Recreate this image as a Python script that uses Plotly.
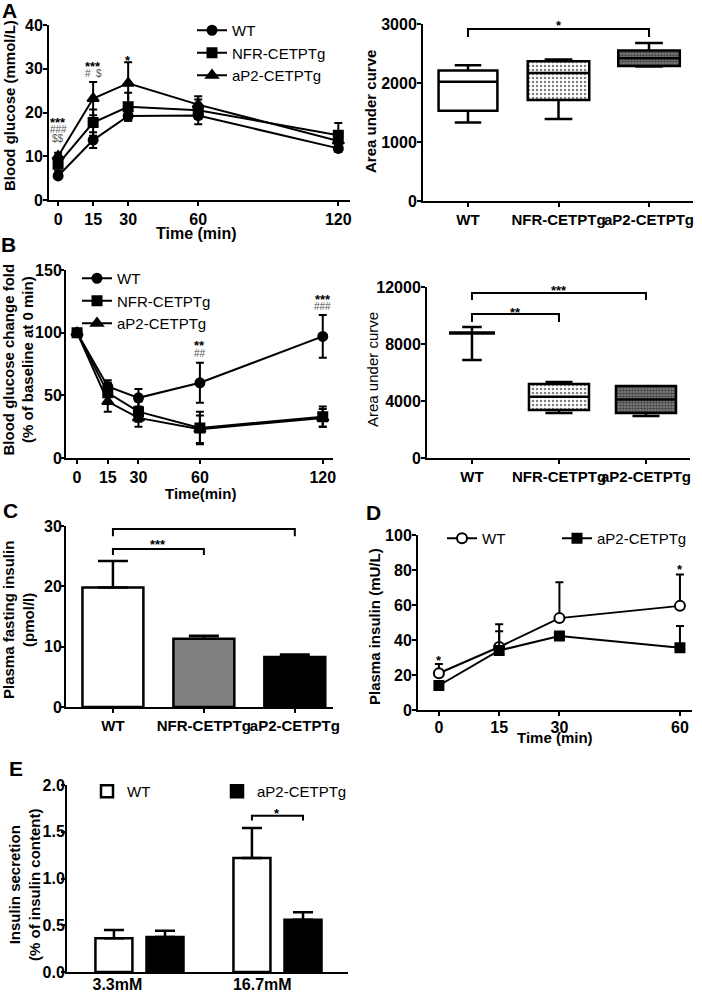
import plotly.graph_objects as go

W, H = 702, 992
FONT = "Liberation Sans, Arial, sans-serif"

# ---------------- data ----------------
TIME_GTT = [0, 15, 30, 60, 120]
GTT_WT = [5.5, 13.7, 19.2, 19.3, 11.8]
GTT_WT_ERR = [0.5, 1.8, 1.0, 0.8, 0.8]
GTT_NFR = [8.2, 17.7, 21.3, 20.5, 14.8]
GTT_NFR_ERR = [1.5, 3.0, 3.2, 3.2, 2.8]
GTT_AP2 = [10.0, 23.2, 26.7, 21.8, 13.5]
GTT_AP2_ERR = [0.8, 3.8, 4.8, 1.2, 2.0]

GROUPS = ["WT", "NFR-CETPTg", "aP2-CETPTg"]
GTT_AUC_MIN = [1330, 1390, 2280]
GTT_AUC_Q1 = [1530, 1710, 2290]
GTT_AUC_MED = [2020, 2170, 2420]
GTT_AUC_Q3 = [2210, 2370, 2550]
GTT_AUC_MAX = [2300, 2400, 2680]

TIME_ITT = [0, 15, 30, 60, 120]
ITT_WT = [100, 57, 48, 60, 97]
ITT_WT_ERR = [0, 5, 7, 16, 17]
ITT_NFR = [100, 52, 37, 24, 33]
ITT_NFR_ERR = [0, 8, 8, 13, 8]
ITT_AP2 = [100, 45, 32, 23, 32]
ITT_AP2_ERR = [0, 8, 7, 11, 7]

ITT_AUC_MIN = [6880, 3150, 2950]
ITT_AUC_Q1 = [8740, 3370, 3160]
ITT_AUC_MED = [8770, 4300, 4100]
ITT_AUC_Q3 = [8800, 5190, 5050]
ITT_AUC_MAX = [9190, 5330, 5060]

FAST_INS = [19.8, 11.3, 8.3]
FAST_INS_ERR = [4.4, 0.5, 0.4]
FAST_COLORS = ["white", "#808080", "black"]

TIME_INS = [0, 15, 30, 60]
INS_WT = [21, 36, 52.5, 59.5]
INS_WT_ERR = [5.3, 13, 20.5, 18]
INS_AP2 = [14, 34, 42.3, 35.5]
INS_AP2_ERR = [1.5, 11, 2, 12.5]

GLUCOSE_CONC = ["3.3mM", "16.7mM"]
GSIS_WT = [0.36, 1.22]
GSIS_WT_ERR = [0.09, 0.32]
GSIS_AP2 = [0.375, 0.56]
GSIS_AP2_ERR = [0.065, 0.08]

# significance brackets: (x0, x1, leg bottom, top, label, label y)
GTT_AUC_SIG = [(0, 2, 2780, 2915, "*", 2975)]
ITT_AUC_SIG = [(0, 2, 11090, 11580, "***", 11720), (0, 1, 9540, 10105, "**", 10180)]
FAST_SIG = [(0, 2, 28.3, 29.5, "***", 30.25), (0, 1, 25.2, 26.2, "***", 26.9)]

# ---------------- helpers ----------------
def xd(p0, p1):
    return [p0 / W, p1 / W]

def yd(top, bot):
    return [1 - bot / H, 1 - top / H]

BOLD = dict(family=FONT, size=16, color="black", weight="bold")

def axis(domain, rng, anchor, **kw):
    d = dict(domain=domain, range=rng, anchor=anchor, showline=True, linewidth=2,
             linecolor="black", ticks="outside", ticklen=4, tickwidth=2, tickcolor="black",
             showgrid=False, zeroline=False, tickfont=BOLD, fixedrange=True, tickangle=0,
             automargin=False)
    d.update(kw)
    return d

def yaxis(domain, rng, anchor, standoff=-3, **kw):
    return axis(domain, rng, anchor, ticklabelstandoff=standoff, **kw)

fig = go.Figure()

ERR = dict(color="black", thickness=2, width=4)

def line_trace(x, y, err, name, symbol, xa, ya, legend, symmetric=True, mcolor="black", size=9):
    e = dict(type="data", array=err, visible=True, **ERR)
    if not symmetric:
        e.update(symmetric=False, arrayminus=[0] * len(err))
    return go.Scatter(x=x, y=y, name=name, mode="lines+markers", xaxis=xa, yaxis=ya,
                      legend=legend, cliponaxis=False,
                      line=dict(color="black", width=2),
                      marker=dict(symbol=symbol, size=size, color=mcolor,
                                  line=dict(color="black", width=2)),
                      error_y=e)

# Panel A left
fig.add_trace(line_trace(TIME_GTT, GTT_WT, GTT_WT_ERR, "WT", "circle", "x", "y", "legend"))
fig.add_trace(line_trace(TIME_GTT, GTT_NFR, GTT_NFR_ERR, "NFR-CETPTg", "square", "x", "y", "legend"))
fig.add_trace(line_trace(TIME_GTT, GTT_AP2, GTT_AP2_ERR, "aP2-CETPTg", "triangle-up", "x", "y", "legend", size=10))

# Panel B left
fig.add_trace(line_trace(TIME_ITT, ITT_WT, ITT_WT_ERR, "WT", "circle", "x3", "y3", "legend2"))
fig.add_trace(line_trace(TIME_ITT, ITT_NFR, ITT_NFR_ERR, "NFR-CETPTg", "square", "x3", "y3", "legend2"))
fig.add_trace(line_trace(TIME_ITT, ITT_AP2, ITT_AP2_ERR, "aP2-CETPTg", "triangle-up", "x3", "y3", "legend2", size=10))

# Box panels
PATTERNS = [None,
            dict(shape=".", size=4, solidity=0.3, fgcolor="black", bgcolor="white"),
            dict(shape=".", size=3, solidity=0.6, fgcolor="black", bgcolor="#8a8a8a")]

def add_boxes(xa, ya, mn, q1, med, q3, mx, widths):
    for i in range(3):
        if PATTERNS[i] is not None:
            fig.add_trace(go.Bar(x=[i], y=[q3[i] - q1[i]], base=[q1[i]], width=widths[i],
                                 xaxis=xa, yaxis=ya, showlegend=False, hoverinfo="skip",
                                 marker=dict(color="white", pattern=PATTERNS[i],
                                             line=dict(width=0))))
        fig.add_trace(go.Box(x=[i], q1=[q1[i]], median=[med[i]], q3=[q3[i]],
                             lowerfence=[mn[i]], upperfence=[mx[i]], width=widths[i],
                             whiskerwidth=0.45, xaxis=xa, yaxis=ya, showlegend=False,
                             boxpoints=False, line=dict(color="black", width=2.5),
                             fillcolor="white" if PATTERNS[i] is None else "rgba(0,0,0,0)"))

add_boxes("x2", "y2", GTT_AUC_MIN, GTT_AUC_Q1, GTT_AUC_MED, GTT_AUC_Q3, GTT_AUC_MAX, [0.65, 0.68, 0.68])
add_boxes("x4", "y4", ITT_AUC_MIN, ITT_AUC_Q1, ITT_AUC_MED, ITT_AUC_Q3, ITT_AUC_MAX, [0.5, 0.69, 0.69])

# Panel C
fig.add_trace(go.Bar(x=list(range(3)), y=FAST_INS, width=0.67, xaxis="x5", yaxis="y5",
                     showlegend=False, marker=dict(color=FAST_COLORS, line=dict(color="black", width=2.5)),
                     error_y=dict(type="data", array=FAST_INS_ERR, symmetric=False,
                                  arrayminus=[0, 0, 0], color="black", thickness=2.5, width=15)))

# Panel D
fig.add_trace(line_trace(TIME_INS, INS_WT, INS_WT_ERR, "WT", "circle", "x6", "y6", "legend3",
                         symmetric=False, mcolor="white", size=10))
fig.add_trace(line_trace(TIME_INS, INS_AP2, INS_AP2_ERR, "aP2-CETPTg", "square", "x6", "y6", "legend5",
                         symmetric=False))

# Panel E
E_BAR_W = 0.268
fig.add_trace(go.Bar(x=[0, 1], y=GSIS_WT, name="WT", width=E_BAR_W, offset=-0.319,
                     xaxis="x7", yaxis="y7", legend="legend4",
                     marker=dict(color="white", line=dict(color="black", width=2.5)),
                     error_y=dict(type="data", array=GSIS_WT_ERR, symmetric=False,
                                  arrayminus=[0, 0], color="black", thickness=2.5, width=10)))
fig.add_trace(go.Bar(x=[0, 1], y=GSIS_AP2, name="aP2-CETPTg", width=E_BAR_W, offset=0.051,
                     xaxis="x7", yaxis="y7", legend="legend6",
                     marker=dict(color="black", line=dict(color="black", width=2.5)),
                     error_y=dict(type="data", array=GSIS_AP2_ERR, symmetric=False,
                                  arrayminus=[0, 0], color="black", thickness=2.5, width=10)))
E_SIG = [(1 - 0.185, 1 + 0.185, 1.62, 1.67, "*", 1.70)]

annotations = []

def brackets(sigs, xa, ya):
    for (a, b, leg, top, lab, ly) in sigs:
        fig.add_trace(go.Scatter(x=[a, a, b, b], y=[leg, top, top, leg], mode="lines",
                                 xaxis=xa, yaxis=ya, showlegend=False, hoverinfo="skip",
                                 cliponaxis=False, line=dict(color="black", width=2)))
        annotations.append(dict(x=(a + b) / 2, y=ly, xref=xa, yref=ya,
                                text=lab, showarrow=False,
                                font=dict(family=FONT, size=13, color="black", weight="bold")))

brackets(GTT_AUC_SIG, "x2", "y2")
brackets(ITT_AUC_SIG, "x4", "y4")
brackets(FAST_SIG, "x5", "y5")
brackets(E_SIG, "x7", "y7")

STAR = dict(family=FONT, size=13, color="black", weight="bold")
HASH = dict(family=FONT, size=10, color="#555555")

def note(x, y, xa, ya, text, font):
    annotations.append(dict(x=x, y=y, xref=xa, yref=ya, text=text, showarrow=False, font=font))

note(0, 17.6, "x", "y", "***", STAR)
note(0, 16.0, "x", "y", "###", HASH)
note(0, 14.0, "x", "y", "$$", HASH)
note(15, 30.6, "x", "y", "***", STAR)
note(15, 28.9, "x", "y", "#  $", HASH)
note(30, 31.9, "x", "y", "*", STAR)
note(60, 90, "x3", "y3", "**", STAR)
note(60, 83.0, "x3", "y3", "##", HASH)
note(120, 126.8, "x3", "y3", "***", STAR)
note(120, 120.6, "x3", "y3", "###", HASH)
note(0, 28.3, "x6", "y6", "*", STAR)
note(60, 80.3, "x6", "y6", "*", STAR)

def ptext(x, y, text, size=15, bold=True, angle=0):
    annotations.append(dict(x=x / W, y=1 - y / H, xref="paper", yref="paper", text=text,
                            showarrow=False, textangle=angle, xanchor="center", yanchor="middle",
                            font=dict(family=FONT, size=size, color="black",
                                      weight="bold" if bold else "normal")))

# panel letters
ptext(9, 10, "A", 21)
ptext(8, 244, "B", 21)
ptext(10, 510, "C", 21)
ptext(374, 512, "D", 21)
ptext(16, 768, "E", 21)

# axis titles
ptext(10, 106, "Blood glucose (mmol/L)", 15, True, -90)
ptext(196, 234, "Time (min)", 16)
ptext(370, 112, "Area under curve", 15, True, -90)
ptext(17.5, 360, "Blood glucose change fold<br>(% of baseline at 0 min)", 15, True, -90)
ptext(200, 493, "Time(min)", 15)
ptext(372, 370, "Area under curve", 15, False, -90)
ptext(18, 620, "Plasma fasting insulin<br>(pmol/l)", 15, True, -90)
ptext(374, 626, "Plasma insulin (mU/L)", 15, True, -90)
ptext(555, 737, "Time (min)", 15)
ptext(24, 885, "Insulin secretion<br>(% of insulin content)", 15, True, -90)

LEG = dict(font=dict(family=FONT, size=15, color="black"), bgcolor="rgba(0,0,0,0)",
           xanchor="left", yanchor="top", tracegroupgap=0, borderwidth=0)

CAT_FONT = dict(family=FONT, size=15, color="black", weight="bold")

fig.update_layout(
    width=W, height=H, margin=dict(l=0, r=0, t=0, b=0, autoexpand=False),
    paper_bgcolor="white", plot_bgcolor="white", barmode="overlay", boxmode="overlay",
    xaxis=axis(xd(49, 350), [-3.9, 125], "y", tickvals=TIME_GTT),
    yaxis=yaxis(yd(25, 200), [0, 40], "x", tickvals=[0, 10, 20, 30, 40]),
    xaxis2=axis(xd(423, 693), [-0.497, 2.486], "y2", tickvals=[0, 1, 2], ticktext=GROUPS, tickfont=CAT_FONT),
    yaxis2=yaxis(yd(24, 201), [0, 3000], "x2", tickvals=[0, 1000, 2000, 3000]),
    xaxis3=axis(xd(66, 333), [-5.4, 125], "y3", tickvals=TIME_ITT),
    yaxis3=yaxis(yd(270, 458), [0, 150], "x3", standoff=-5, tickvals=[0, 50, 100, 150]),
    xaxis4=axis(xd(427, 690), [-0.517, 2.506], "y4", tickvals=[0, 1, 2], ticktext=GROUPS, tickfont=CAT_FONT),
    yaxis4=yaxis(yd(287, 458), [0, 12000], "x4", tickvals=[0, 4000, 8000, 12000], tickformat="d"),
    xaxis5=axis(xd(66, 333), [-0.516, 2.42], "y5", tickvals=[0, 1, 2], ticktext=GROUPS, tickfont=CAT_FONT),
    yaxis5=yaxis(yd(526, 707), [0, 30], "x5", standoff=-5, tickvals=[0, 10, 20, 30]),
    xaxis6=axis(xd(418, 692), [-5.2, 63], "y6", tickvals=TIME_INS, ticklabelstandoff=-2),
    yaxis6=yaxis(yd(535, 710), [0, 100], "x6", tickvals=[0, 20, 40, 60, 80, 100]),
    xaxis7=axis(xd(67, 348), [-0.525, 1.511], "y7", tickvals=[-0.16, 0.89], ticktext=GLUCOSE_CONC,
                ticks="", ticklabelstandoff=-3),
    yaxis7=yaxis(yd(785, 972), [0, 2], "x7", standoff=-7, tickvals=[0, 0.5, 1, 1.5, 2], tickformat=".1f"),
    legend=dict(x=192 / W, y=1 - 14 / H, **LEG),
    legend2=dict(x=77 / W, y=1 - 262 / H, **LEG),
    legend3=dict(x=442 / W, y=1 - 522 / H, **LEG),
    legend5=dict(x=557 / W, y=1 - 522 / H, **LEG),
    legend4=dict(x=87 / W, y=1 - 775 / H, **LEG),
    legend6=dict(x=217 / W, y=1 - 775 / H, **LEG),
    annotations=annotations,
)

fig.write_html("out.html", config={"displayModeBar": False},
               post_script="document.body.style.margin='0';document.body.style.overflow='hidden';")
